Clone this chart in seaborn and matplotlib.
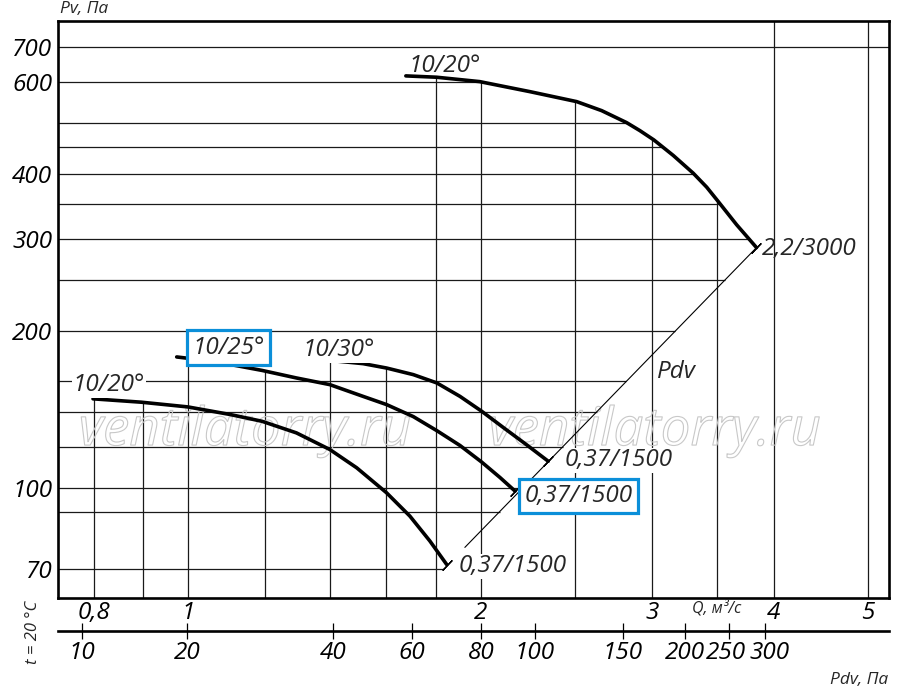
import numpy as np
import matplotlib
matplotlib.use("Agg")
import matplotlib.pyplot as plt
import matplotlib.patheffects as pe
import matplotlib.transforms as mtransforms
from matplotlib.ticker import NullLocator
import seaborn as sns

# Кривые вентилятора: Q, м3/с и Pv, Па
q_big = [1.675, 1.801, 1.995, 2.246, 2.509, 2.662, 2.824, 2.914, 3.012, 3.154,
         3.306, 3.413, 3.508, 3.664, 3.84]
pv_big = [616.8, 613.2, 601.4, 575.4, 550.6, 529.1, 501.8, 484.4, 464.9, 434.0,
          401.4, 377.4, 354.1, 319.6, 289]

q_20 = [0.799, 0.896, 1.0, 1.105, 1.192, 1.293, 1.399, 1.491, 1.600, 1.691, 1.773, 1.845]
pv_20 = [148.2, 146.0, 143.0, 138.3, 134.2, 127.5, 118.5, 109.3, 97.9, 88.3, 79.1, 71.3]

q_25 = [0.974, 1.062, 1.192, 1.293, 1.399, 1.514, 1.600, 1.705, 1.802, 1.904, 2.004, 2.093, 2.169]
pv_25 = [178.3, 174.9, 168.0, 162.5, 157.8, 149.8, 144.5, 137.0, 128.8, 120.6, 112.1, 104.7, 98.6]

q_30 = [1.399, 1.514, 1.600, 1.705, 1.802, 1.904, 2.004, 2.109, 2.230, 2.346]
pv_30 = [175.6, 173.1, 169.8, 164.9, 159.0, 149.8, 140.3, 130.6, 120.9, 112.5]

# линия динамического давления Pdv
pdv_q = [1.926, 3.84]
pdv_pv = [76.9, 289]

# шкалы
q_ticks = [0.8, 1, 2, 3, 4, 5]
q_labels = ["0,8", "1", "2", "3", "4", "5"]
pv_ticks = [70, 100, 200, 300, 400, 600, 700]
pv_labels = ["70", "100", "200", "300", "400", "600", "700"]
pdv_ticks = ["10", "20", "40", "60", "80", "100", "150", "200", "250", "300"]
pdv_tick_q = [0.779, 0.998, 1.411, 1.700, 2.001, 2.272, 2.798, 3.242, 3.594, 3.917]

grid_q = [0.8, 0.9, 1.0, 1.2, 1.4, 1.6, 1.8, 2.0, 2.5, 3.0, 3.5, 4.0, 5.0]
grid_pv = [70, 90, 100, 120, 140, 160, 200, 250, 300, 350, 400, 450, 500, 600, 700]

curves = [(q_big, pv_big), (q_20, pv_20), (q_25, pv_25), (q_30, pv_30)]

sns.set_theme(style="white")
plt.rcParams['font.family'] = ['Open Sans', 'DejaVu Sans']
plt.rcParams['font.style'] = 'italic'

fig = plt.figure(figsize=(9, 6.91), dpi=100)
ax = fig.add_axes([58 / 900, 1 - 598 / 691, 831 / 900, 577 / 691])
ax.set_xscale('log')
ax.set_yscale('log')
ax.set_xlim(0.7355, 5.254)
ax.set_ylim(61.5, 786)
xmin, xmax = ax.get_xlim()
ymin, ymax = ax.get_ylim()


def top_at(q):
    vals = [10 ** np.interp(np.log10(q), np.log10(cq), np.log10(cp))
            for cq, cp in curves if cq[0] - 1e-3 <= q <= cq[-1] + 1e-9]
    return max(vals) if vals else ymax


def right_at(pv):
    if pv > max(pv_big):
        return xmax
    if pv > pdv_pv[-1]:
        return 10 ** np.interp(np.log10(pv), np.log10(pv_big[::-1]), np.log10(q_big[::-1]))
    n = np.log(pdv_pv[1] / pdv_pv[0]) / np.log(pdv_q[1] / pdv_q[0])
    return pdv_q[0] * (pv / pdv_pv[0]) ** (1 / n)


# сетка
for q in grid_q:
    top = ymax if q >= 4 else top_at(q)
    ax.vlines(q, ymin, top, color='#1a1a1a', lw=0.9, zorder=2)
for pv in grid_pv:
    ax.hlines(pv, xmin, right_at(pv), color='#1a1a1a', lw=0.9, zorder=2)

# водяной знак
for xf in [0.225, 0.718]:
    ax.text(xf, 0.265, "ventilatorry.ru", transform=ax.transAxes, fontsize=38,
            color=(1, 1, 1, 0), ha='center', va='baseline', zorder=2.5,
            path_effects=[pe.Stroke(linewidth=0.8, foreground='#c8c8c8')])

# линия Pdv
sns.lineplot(x=pdv_q, y=pdv_pv, ax=ax, color='black', linewidth=0.8, zorder=3)

# кривые
for cq, cp in curves:
    sns.lineplot(x=cq, y=cp, ax=ax, color='black', linewidth=2.6, sort=False,
                 estimator=None, zorder=4, solid_joinstyle='round')
    ax.plot(cq[-1], cp[-1], marker=(2, 2, -44), ms=10, mew=0.9, color='black', zorder=4)

# подписи кривых
white = dict(boxstyle='square,pad=0.03', fc='white', ec='none')
blue = dict(boxstyle='square,pad=0.22', fc='white', ec='#0b8fd9', lw=2.3)
fs = 17.5
ax.text(1.837, 628, "10/20°", fontsize=fs, ha='center', va='baseline', zorder=5)
ax.text(3.887, 280, "2,2/3000", fontsize=fs, ha='left', va='baseline', zorder=5)
ax.text(3.18, 162.8, "Pdv", fontsize=fs, ha='center', va='baseline', zorder=5, bbox=white)
ax.text(2.773, 110, "0,37/1500", fontsize=fs, ha='center', va='baseline', zorder=5, bbox=white)
ax.text(2.522, 94, "0,37/1500", fontsize=fs, ha='center', va='baseline', zorder=5, bbox=blue)
ax.text(2.156, 68.9, "0,37/1500", fontsize=fs, ha='center', va='baseline', zorder=5, bbox=white)
ax.text(1.430, 178.9, "10/30°", fontsize=fs, ha='center', va='baseline', zorder=5, bbox=white)
ax.text(1.101, 181, "10/25°", fontsize=fs, ha='center', va='baseline', zorder=5, bbox=blue)
ax.text(0.8295, 153.2, "10/20°", fontsize=fs, ha='center', va='baseline', zorder=5, bbox=white)

# оси
ax.xaxis.set_minor_locator(NullLocator())
ax.yaxis.set_minor_locator(NullLocator())
ax.set_xticks(q_ticks, q_labels)
ax.set_yticks(pv_ticks, pv_labels)
ax.tick_params(axis='both', length=0, labelsize=fs, colors='black')
ax.tick_params(axis='x', pad=2)
ax.tick_params(axis='y', pad=4)
for s in ax.spines.values():
    s.set_color('black')
    s.set_linewidth(1.9)
    s.set_zorder(6)

# шкала Pdv
ax2 = fig.add_axes([58 / 900, 1 - 631 / 691, 831 / 900, 0.0001])
ax2.set_facecolor('none')
ax2.set_xscale('log')
ax2.set_xlim(xmin, xmax)
ax2.set_yticks([])
for side in ['top', 'left', 'right']:
    ax2.spines[side].set_visible(False)
ax2.spines['bottom'].set_color('black')
ax2.spines['bottom'].set_linewidth(1.9)
ax2.xaxis.set_minor_locator(NullLocator())
ax2.set_xticks(pdv_tick_q, pdv_ticks)
ax2.tick_params(axis='x', bottom=True, direction='inout', length=11, width=0.9,
                labelsize=fs, pad=2, colors='black')
# подписи 250 и 300 на оригинале чуть разведены
for lbl, dx in zip(ax2.get_xticklabels()[-2:], [-3, 5]):
    lbl.set_transform(lbl.get_transform() + mtransforms.ScaledTranslation(dx / 100, 0, fig.dpi_scale_trans))

# подписи осей
fig.text(60 / 900, 1 - 9 / 691, "Pv, Па", fontsize=12.5, ha='left', va='center')
fig.text(717 / 900, 1 - 608 / 691, "Q, м³/с", fontsize=11.5, ha='center', va='center')
fig.text(888 / 900, 1 - 680 / 691, "Pdv, Па", fontsize=12.5, ha='right', va='center')
fig.text(33 / 900, 1 - 632 / 691, "t = 20 °C", fontsize=12, ha='center', va='center',
         rotation=90)

fig.savefig("out.png", dpi=100)
